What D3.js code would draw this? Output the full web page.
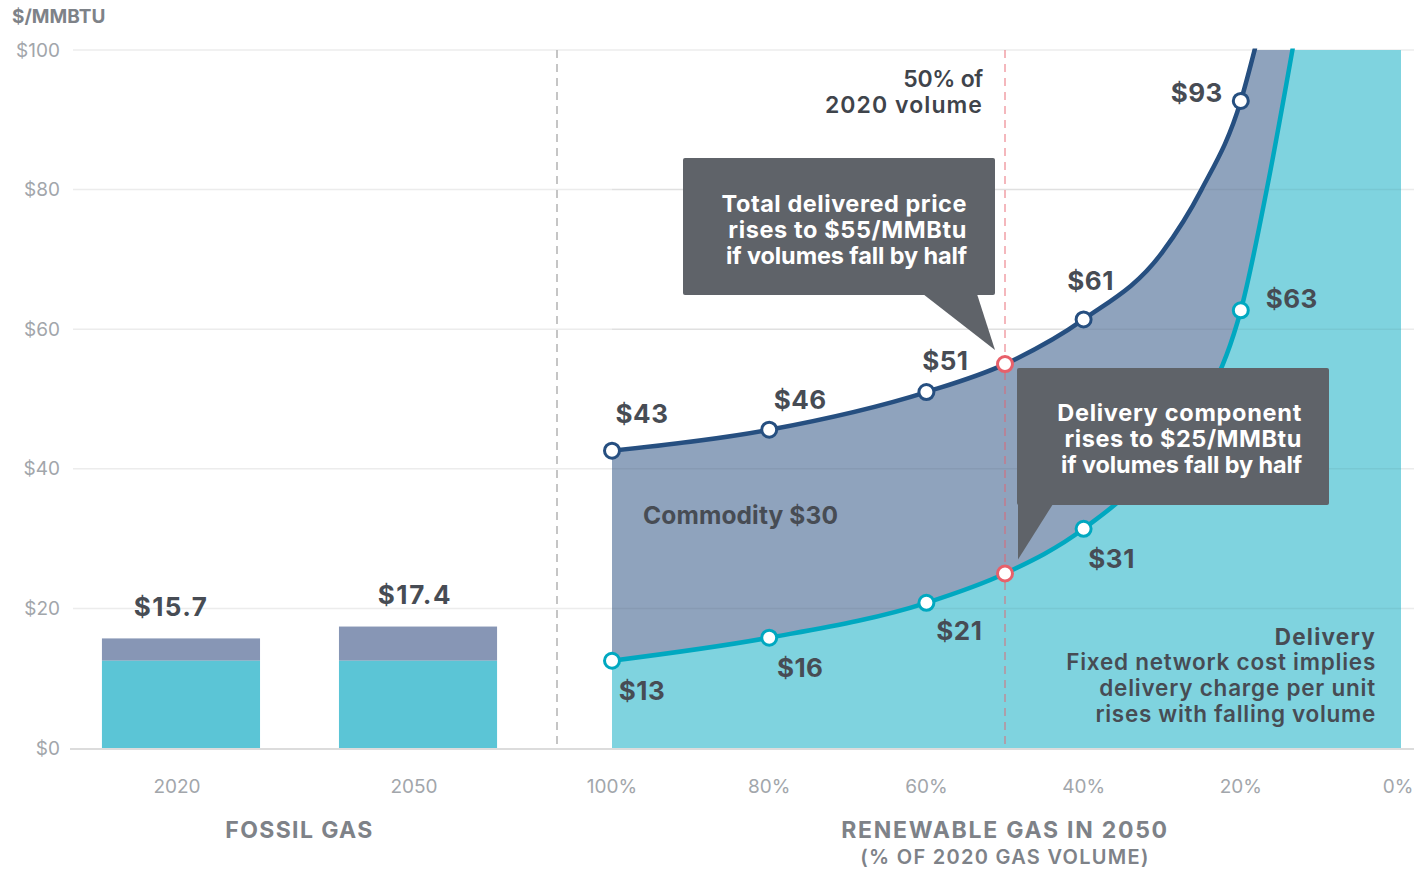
<!DOCTYPE html>
<html>
<head>
<meta charset="utf-8">
<script src="https://cdn.jsdelivr.net/npm/d3@7"></script>
<style>
  html, body { margin: 0; padding: 0; background: #fff; }
  svg { display: block; font-family: Inter, Lato, sans-serif; }
</style>
</head>
<body>
<svg id="chart" width="1414" height="869"></svg>
<script>
// ---------- DATA ----------
const yTicks = [0, 20, 40, 60, 80, 100];
const yTickLabels = ["$0", "$20", "$40", "$60", "$80", "$100"];

const fossilYears = ["2020", "2050"];
const fossilDelivery = [12.5, 12.5];
const fossilTotal = [15.7, 17.4];
const fossilLabels = ["$15.7", "$17.4"];

const volumeTicks = [100, 80, 60, 40, 20, 0];
const volumeTickLabels = ["100%", "80%", "60%", "40%", "20%", "0%"];

// marker points (renewable gas, % of 2020 volume)
const markerVolumes = [100, 80, 60, 50, 40, 20];
const totalAtMarkers = [42.6, 45.6, 51, 55, 61.4, 92.7];
const deliveryAtMarkers = [12.5, 15.8, 20.8, 25, 31.4, 62.7];
const totalLabels = ["$43", "$46", "$51", null, "$61", "$93"];
const deliveryLabels = ["$13", "$16", "$21", null, "$31", "$63"];

// curve points (volume %, $/MMBtu)
const totalCurveVolumes = [100, 80, 60, 50, 40, 30, 25, 20, 18.2];
const totalCurveValues = [42.6, 45.6, 51, 55, 61.4, 71, 80, 92.7, 100.2];
const deliveryCurveVolumes = [100, 80, 60, 50, 40, 30, 20, 16.7, 13.4];
const deliveryCurveValues = [12.5, 15.8, 20.8, 25, 31.4, 42, 62.7, 80, 100.2];

const highlightVolume = 50;

// ---------- SETUP ----------
const svg = d3.select("#chart");
const W = 1414, H = 869;
const y = d3.scaleLinear().domain([0, 100]).range([748, 50]);
const xv = d3.scaleLinear().domain([100, 0]).range([612, 1398]);
const xb = d3.scaleBand().domain(fossilYears).range([23, 576]).paddingInner(0.333).paddingOuter(0.333);

const C = {
  grid: "#ececec",
  base: "#dcdcdc",
  tick: "#a2a6ab",
  title: "#7e8288",
  text: "#474c54",
  commodity: "#8fa3bd",
  delivery: "#7fd3df",
  barCommodity: "#8796b5",
  barDelivery: "#5bc5d6",
  totalLine: "#264f80",
  deliveryLine: "#00a8c0",
  red: "#e8606a",
  callout: "#5f6369"
};

// fit text horizontally to a measured span by adjusting letter-spacing
function fit(sel, width) {
  sel.each(function () {
    const n = this.getNumberOfChars();
    const w = this.getComputedTextLength();
    if (n > 1) d3.select(this).attr("letter-spacing", ((width - w) / (n - 1)).toFixed(2));
  });
  return sel;
}

// gridlines
svg.append("g").selectAll("line").data(yTicks.filter(d => d > 0)).join("line")
  .attr("x1", 73).attr("x2", W).attr("y1", d => y(d)).attr("y2", d => y(d))
  .attr("stroke", C.grid).attr("stroke-width", 1.5);

// y tick labels
svg.append("g").selectAll("text").data(yTicks).join("text")
  .attr("x", 60).attr("y", d => y(d)).attr("text-anchor", "end")
  .attr("dominant-baseline", "central")
  .attr("fill", C.tick).attr("font-size", 19)
  .text((d, i) => yTickLabels[i]);

svg.append("text").attr("x", 12).attr("y", 16).attr("dominant-baseline", "central")
  .attr("fill", C.title).attr("font-size", 19).attr("font-weight", 700)
  .text("$/MMBTU");

// separator dashed line
svg.append("line").attr("x1", 557).attr("x2", 557).attr("y1", y(100)).attr("y2", y(0))
  .attr("stroke", "#b3b3b3").attr("stroke-width", 1.5).attr("stroke-dasharray", "8,6");

// fossil bars
const bars = svg.append("g");
fossilYears.forEach((yr, i) => {
  bars.append("rect").attr("x", xb(yr)).attr("width", xb.bandwidth())
    .attr("y", y(fossilTotal[i])).attr("height", y(fossilDelivery[i]) - y(fossilTotal[i]))
    .attr("fill", C.barCommodity);
  bars.append("rect").attr("x", xb(yr)).attr("width", xb.bandwidth())
    .attr("y", y(fossilDelivery[i])).attr("height", y(0) - y(fossilDelivery[i]))
    .attr("fill", C.barDelivery);
  fit(bars.append("text").attr("x", xb(yr) + xb.bandwidth() / 2 + (i === 0 ? -10 : -3))
    .attr("y", y(fossilTotal[i]) - 32).attr("text-anchor", "middle")
    .attr("dominant-baseline", "central")
    .attr("fill", C.text).attr("font-size", 26).attr("font-weight", 700)
    .text(fossilLabels[i]), 73);
});

// areas
const totalPts = totalCurveVolumes.map((v, i) => [xv(v), y(totalCurveValues[i])]);
const deliveryPts = deliveryCurveVolumes.map((v, i) => [xv(v), y(deliveryCurveValues[i])]);
const lineGen = d3.line().curve(d3.curveMonotoneX);
const xRight = xv(0) + 3;
const closeArea = `L${xRight},${y(100)}L${xRight},${y(0)}L${xv(100)},${y(0)}Z`;

svg.append("clipPath").attr("id", "plotclip").append("rect")
  .attr("x", xv(100)).attr("y", y(100)).attr("width", xRight - xv(100)).attr("height", y(0) - y(100));
svg.append("clipPath").attr("id", "lineclip").append("rect")
  .attr("x", 0).attr("y", y(100) - 1.5).attr("width", W).attr("height", H);

const areas = svg.append("g").attr("clip-path", "url(#plotclip)");
areas.append("path").attr("d", lineGen(totalPts) + closeArea).attr("fill", C.commodity);
areas.append("path").attr("d", lineGen(deliveryPts) + closeArea).attr("fill", C.delivery);

// gridlines faintly over areas
svg.append("g").selectAll("line").data(yTicks.filter(d => d > 0 && d < 100)).join("line")
  .attr("x1", xv(100)).attr("x2", xRight).attr("y1", d => y(d)).attr("y2", d => y(d))
  .attr("stroke", "#000").attr("stroke-opacity", 0.05).attr("stroke-width", 1.5);

// baseline
svg.append("line").attr("x1", 70).attr("x2", W).attr("y1", y(0) + 1).attr("y2", y(0) + 1)
  .attr("stroke", C.base).attr("stroke-width", 2);

// 50% dashed line
svg.append("line").attr("x1", xv(highlightVolume)).attr("x2", xv(highlightVolume))
  .attr("y1", y(100)).attr("y2", y(0))
  .attr("stroke", C.red).attr("stroke-opacity", 0.6).attr("stroke-width", 1.5)
  .attr("stroke-dasharray", "8,6");

// lines
const lines = svg.append("g").attr("clip-path", "url(#lineclip)");
lines.append("path").attr("d", lineGen(deliveryPts)).attr("fill", "none")
  .attr("stroke", C.deliveryLine).attr("stroke-width", 4.5).attr("stroke-linecap", "round");
lines.append("path").attr("d", lineGen(totalPts)).attr("fill", "none")
  .attr("stroke", C.totalLine).attr("stroke-width", 4.5).attr("stroke-linecap", "round");

// "Commodity $30"
fit(svg.append("text").attr("x", 643).attr("y", 515).attr("dominant-baseline", "central")
  .attr("fill", C.text).attr("font-size", 24.5).attr("font-weight", 700)
  .text("Commodity $30"), 195);

// "50% of 2020 volume"
const noteG = svg.append("g").attr("fill", "#3f444b").attr("font-size", 23).attr("font-weight", 600)
  .attr("text-anchor", "end");
[["50% of", 80], ["2020 volume", 157]].forEach((t, i) => {
  fit(noteG.append("text").attr("x", 983).attr("y", 79 + i * 26).attr("dominant-baseline", "central").text(t[0]), t[1]);
});

// Delivery description
const delG = svg.append("g").attr("fill", C.text).attr("font-size", 22.5).attr("text-anchor", "end");
[["Delivery", 100], ["Fixed network cost implies", 309], ["delivery charge per unit", 276], ["rises with falling volume", 280]].forEach((t, i) => {
  fit(delG.append("text").attr("x", 1376).attr("y", 636 + i * 25.7).attr("dominant-baseline", "central")
    .attr("font-weight", i === 0 ? 700 : 600).text(t[0]), t[1]);
});

// callouts
function callout(box, tri, lines, textRight, firstY) {
  const g = svg.append("g");
  g.append("rect").attr("x", box[0]).attr("y", box[1]).attr("width", box[2]).attr("height", box[3])
    .attr("rx", 2).attr("fill", C.callout);
  g.append("path").attr("d", "M" + tri.map(p => p.join(",")).join("L") + "Z").attr("fill", C.callout);
  lines.forEach((t, i) => {
    fit(g.append("text").attr("x", textRight).attr("y", firstY + i * 26.3).attr("text-anchor", "end")
      .attr("dominant-baseline", "central").attr("fill", "#fff").attr("font-size", 23.5)
      .attr("font-weight", 700).text(t[0]), t[1]);
  });
}
callout([683, 158, 312, 137], [[923, 294], [977, 294], [xv(highlightVolume) - 10, y(55) - 14]],
  [["Total delivered price", 245], ["rises to $55/MMBtu", 238], ["if volumes fall by half", 241]], 967, 203);
callout([1017, 368, 312, 137], [[1018, 504], [1053, 504], [1018, y(25) - 14]],
  [["Delivery component", 244], ["rises to $25/MMBtu", 237], ["if volumes fall by half", 241]], 1302, 412);

// markers
const mk = svg.append("g");
markerVolumes.forEach((v, i) => {
  const hl = v === highlightVolume;
  mk.append("circle").attr("cx", xv(v)).attr("cy", y(totalAtMarkers[i])).attr("r", 7.5)
    .attr("fill", "#fff").attr("stroke", hl ? C.red : C.totalLine).attr("stroke-width", 3);
  mk.append("circle").attr("cx", xv(v)).attr("cy", y(deliveryAtMarkers[i])).attr("r", 7.5)
    .attr("fill", "#fff").attr("stroke", hl ? C.red : C.deliveryLine).attr("stroke-width", 3);
});

// value labels (offsets from marker)
const totalOff = [[30, -37], [31, -30], [19, -32], null, [7, -39], [-44, -8]];
const delivOff = [[30, 30], [31, 30], [33, 28], null, [28, 30], [51, -12]];
const lab = svg.append("g").attr("fill", C.text).attr("font-size", 26).attr("font-weight", 700)
  .attr("text-anchor", "middle").attr("letter-spacing", 0.5);
markerVolumes.forEach((v, i) => {
  if (totalLabels[i]) lab.append("text").attr("x", xv(v) + totalOff[i][0]).attr("y", y(totalAtMarkers[i]) + totalOff[i][1])
    .attr("dominant-baseline", "central").text(totalLabels[i]);
  if (deliveryLabels[i]) lab.append("text").attr("x", xv(v) + delivOff[i][0]).attr("y", y(deliveryAtMarkers[i]) + delivOff[i][1])
    .attr("dominant-baseline", "central").text(deliveryLabels[i]);
});

// x tick labels
const xt = svg.append("g").attr("fill", C.tick).attr("font-size", 19).attr("text-anchor", "middle");
fossilYears.forEach(yr => {
  xt.append("text").attr("x", xb(yr) + xb.bandwidth() / 2 - 4).attr("y", 786)
    .attr("dominant-baseline", "central").text(yr);
});
volumeTicks.forEach((v, i) => {
  xt.append("text").attr("x", xv(v)).attr("y", 786).attr("dominant-baseline", "central").text(volumeTickLabels[i]);
});

// group titles
const tt = svg.append("g").attr("fill", C.title).attr("font-weight", 700).attr("text-anchor", "middle");
fit(tt.append("text").attr("x", (xb("2020") + xb("2050") + xb.bandwidth()) / 2).attr("y", 830)
  .attr("dominant-baseline", "central").attr("font-size", 23).text("FOSSIL GAS"), 147);
fit(tt.append("text").attr("x", xv(50)).attr("y", 830).attr("dominant-baseline", "central")
  .attr("font-size", 23).text("RENEWABLE GAS IN 2050"), 326);
fit(tt.append("text").attr("x", xv(50)).attr("y", 857).attr("dominant-baseline", "central")
  .attr("font-size", 20).attr("font-weight", 600).text("(% OF 2020 GAS VOLUME)"), 288);
</script>
</body>
</html>
